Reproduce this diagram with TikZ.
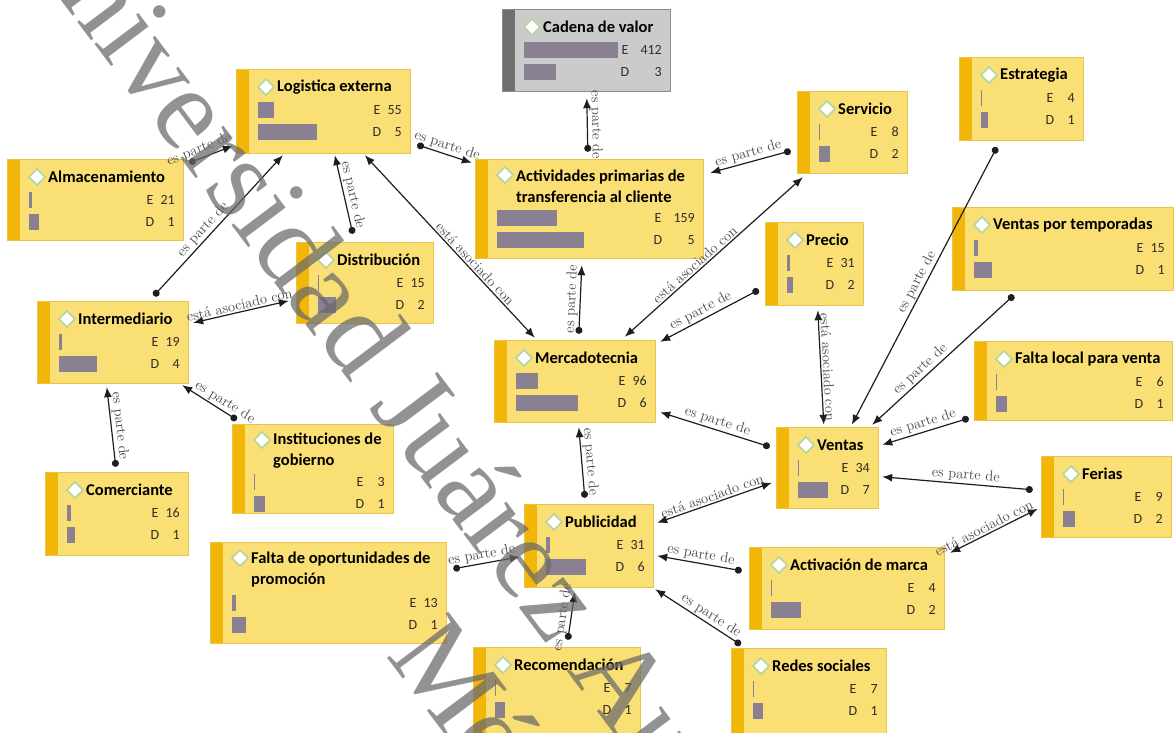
\documentclass[tikz,border=0pt]{standalone}
\usepackage{fontspec}
\newfontfamily\boxfont{Carlito}
\newfontfamily\wmfont{Liberation Serif}
\usetikzlibrary{arrows.meta}

\definecolor{fillY}{RGB}{249,223,116}
\definecolor{edgeY}{RGB}{234,196,74}
\definecolor{stripY}{RGB}{242,182,8}
\definecolor{fillG}{RGB}{203,203,203}
\definecolor{edgeG}{RGB}{140,140,140}
\definecolor{stripG}{RGB}{112,112,112}
\definecolor{barcol}{RGB}{137,129,146}
\definecolor{iconedge}{RGB}{180,212,160}
\definecolor{ink}{RGB}{30,30,30}
\definecolor{lbl}{RGB}{72,72,72}
\definecolor{valtext}{RGB}{50,45,40}
\definecolor{wmgrey}{RGB}{105,105,105}

\begin{document}
\begin{tikzpicture}[x=1pt,y=-1pt,
  boxY/.style={rectangle, fill=fillY, inner sep=0pt, draw=none},
  boxG/.style={rectangle, fill=fillG, inner sep=0pt, draw=none},
  frameY/.style={draw=edgeY, line width=0.8pt},
  frameG/.style={draw=edgeG, line width=0.8pt},
  icon/.style={draw=iconedge, fill=white, line width=1.6pt, line join=miter},
  title/.style={anchor=west, align=left, inner sep=0pt, text=black,
    font=\boxfont\bfseries\fontsize{16.5}{21}\selectfont},
  val/.style={inner sep=0pt, text=valtext, font=\boxfont\fontsize{14}{14}\selectfont},
  conn/.style={draw=ink, line width=1.2pt},
  partof/.style={conn, {Circle[length=7pt]}-{Latex[length=10pt,width=8pt]}},
  assoc/.style={conn, {Latex[length=10pt,width=8pt]}-{Latex[length=10pt,width=8pt]}},
  lab/.style={sloped, above=1pt, inner sep=0.5pt, text=lbl,
    font=\fontsize{14.5}{15}\selectfont},
  wm/.style={anchor=base, rotate=-53, inner sep=0pt, text=wmgrey, text opacity=0.72,
    font=\wmfont\fontsize{117}{117}\selectfont}]

\useasboundingbox (0,0) rectangle (1174,732);
\fill[white] (0,0) rectangle (1174,732);

% code boxes: name / left / top / right / bottom / title / title y / icon y / E row y /
%             E bar / D bar / E value / D value / colour kind
\foreach \nm/\xa/\ya/\xb/\yb/\ttl/\ty/\iy/\er/\eb/\db/\ev/\dv/\k in {
  cad/503/10/670/91/{Cadena de valor}/17/17/40/94/32/412/3/G,
  log/237/70/410/153/{Logistica externa}/17/17/40/16/59/55/5/Y,
  alm/8/160/183/240/{Almacenamiento}/17/17/40/3/10/21/1/Y,
  act/476/160/703/258/{Actividades primarias de\\transferencia al cliente}/26/15/58/60/87/159/5/Y,
  ser/798/92/907/173/{Servicio}/17/17/40/1/11/8/2/Y,
  est/960/58/1083/140/{Estrategia}/17/17/40/1/7/4/1/Y,
  dis/297/243/433/323/{Distribución}/17/17/40/1/18/15/2/Y,
  pre/766/223/863/305/{Precio}/17/17/40/3/6/31/2/Y,
  vpt/953/208/1173/290/{Ventas por temporadas}/17/17/40/4/18/15/1/Y,
  int/38/302/188/383/{Intermediario}/17/17/40/3/38/19/4/Y,
  mer/495/341/655/422/{Mercadotecnia}/17/17/40/22/62/96/6/Y,
  fal/975/342/1172/420/{Falta local para venta}/17/17/40/1/11/6/1/Y,
  ins/233/425/393/513/{Instituciones de\\gobierno}/26/15/57/1/11/3/1/Y,
  ven/777/428/878/508/{Ventas}/17/17/40/1/30/34/7/Y,
  fer/1042/457/1171/537/{Ferias}/17/17/40/1/12/9/2/Y,
  com/46/473/188/555/{Comerciante}/17/17/40/4/8/16/1/Y,
  pub/525/505/653/587/{Publicidad}/17/17/40/4/40/31/6/Y,
  fop/211/543/446/643/{Falta de oportunidades de\\promoción}/26/15/60/4/14/13/1/Y,
  amr/750/548/944/629/{Activación de marca}/17/17/40/1/30/4/2/Y,
  rec/474/648/640/735/{Recomendación}/17/17/40/1/10/7/1/Y,
  red/732/649/886/735/{Redes sociales}/17/17/40/1/10/7/1/Y}{
  \node[box\k, minimum width={\xb-\xa}, minimum height={\yb-\ya}]
    (\nm) at ({(\xa+\xb)/2},{(\ya+\yb)/2}) {};
  \fill[strip\k] (\xa,\ya) rectangle (\xa+12,\yb);
  \draw[frame\k] (\nm.north west) rectangle (\nm.south east);
  \draw[icon] (\xa+21,\ya+\iy) -- (\xa+29,\ya+\iy-8) -- (\xa+37,\ya+\iy)
    -- (\xa+29,\ya+\iy+8) -- cycle;
  \node[title] (\nm-t) at (\xa+40,\ya+\ty) {\ttl};
  \fill[barcol] (\xa+21,\ya+\er-8) rectangle (\xa+21+\eb,\ya+\er+8);
  \fill[barcol] (\xa+21,\ya+\er+14) rectangle (\xa+21+\db,\ya+\er+30);
  \pgfmathsetmacro\lx{\ev>99 ? \xb-45 : \xb-33}
  \node[val] (\nm-e) at (\lx,\ya+\er) {E};
  \node[val, anchor=east] (\nm-ev) at (\xb-8,\ya+\er) {\ev};
  \node[val] (\nm-d) at (\lx,\ya+\er+22) {D};
  \node[val, anchor=east] (\nm-dv) at (\xb-8,\ya+\er+22) {\dv};
}

% links around the logistics group
\draw[partof] ([shift={(6,3)}]alm.north east)
  -- node[lab,pos=0.3]{es parte de} ([shift={(-4,76)}]log.north west);
\draw[partof] ([shift={(116,-6)}]int.north west)
  -- node[lab,pos=0.43]{es parte de} ([shift={(46,2)}]log.south west);
\draw[partof] ([shift={(56,-9)}]dis.north west)
  -- node[lab,pos=0.47]{es parte de} ([shift={(98,2)}]log.south west);
\draw[partof] ([shift={(7,75)}]log.north east)
  -- node[lab,pos=0.5]{es parte de} ([shift={(-4,3)}]act.north west);
\draw[assoc] ([shift={(128,2)}]log.south west)
  -- node[lab,pos=0.62]{está asociado con} ([shift={(40,-3)}]mer.north west);
\draw[assoc] ([shift={(5,21)}]int.north east)
  -- node[lab,pos=0.5]{está asociado con} ([shift={(-8,58)}]dis.north west);
\draw[partof] ([shift={(70,-6)}]com.north west)
  -- node[lab,pos=0.5]{es parte de} ([shift={(69,4)}]int.south west);
\draw[partof] ([shift={(4,-5)}]ins.north west)
  -- node[lab,pos=0.3]{es parte de} ([shift={(-6,2)}]int.south east);

% links around the primary activities
\draw[partof] ([shift={(112,-8)}]act.north west)
  -- node[lab,pos=0.5]{es parte de} ([shift={(84,7)}]cad.south west);
\draw[partof] ([shift={(-7,59)}]ser.north west)
  -- node[lab,pos=0.5]{es parte de} ([shift={(7,13)}]act.north east);
\draw[assoc] ([shift={(130,-4)}]mer.north west)
  -- node[lab,pos=0.42]{está asociado con} ([shift={(5,4)}]ser.south west);
\draw[partof] ([shift={(84,-7)}]mer.north west)
  -- node[lab,pos=0.5]{es parte de} ([shift={(106,7)}]act.south west);
\draw[partof] ([shift={(-7,67)}]pre.north west)
  -- node[lab,pos=0.55]{es parte de} ([shift={(5,1)}]mer.north east);

% links around sales
\draw[partof] ([shift={(-7,19)}]ven.north west)
  -- node[lab,pos=0.5]{es parte de} ([shift={(5,-10)}]mer.south east);
\draw[assoc] ([shift={(52,5)}]pre.south west)
  -- node[lab,pos=0.5]{está asociado con} ([shift={(47,-3)}]ven.north west);
\draw[partof] ([shift={(37,7)}]est.south west)
  -- node[lab,pos=0.5]{es parte de} ([shift={(75,-3)}]ven.north west);
\draw[partof] ([shift={(61,5)}]vpt.south west)
  -- node[lab,pos=0.62]{es parte de} ([shift={(-6,-3)}]ven.north east);
\draw[partof] ([shift={(-6,-2)}]fal.south west)
  -- node[lab,pos=0.5]{es parte de} ([shift={(4,17)}]ven.north east);
\draw[partof] ([shift={(-9,33)}]fer.north west)
  -- node[lab,pos=0.45]{es parte de} ([shift={(4,49)}]ven.north east);
\draw[assoc] ([shift={(4,18)}]pub.north east)
  -- node[lab,pos=0.5]{está asociado con} ([shift={(-5,55)}]ven.north west);
\draw[assoc] ([shift={(6,5)}]amr.north east)
  -- node[lab,pos=0.42]{está asociado con} ([shift={(-4,52)}]fer.north west);

% links around advertising
\draw[partof] ([shift={(60,-7)}]pub.north west)
  -- node[lab,pos=0.5]{es parte de} ([shift={(84,5)}]mer.south west);
\draw[partof] ([shift={(-8,23)}]amr.north west)
  -- node[lab,pos=0.5]{es parte de} ([shift={(4,51)}]pub.north east);
\draw[partof] ([shift={(9,-4)}]red.north west)
  -- node[lab,pos=0.4]{es parte de} ([shift={(2,2)}]pub.south east);
\draw[partof] ([shift={(94,-8)}]rec.north west)
  -- node[lab,pos=0.45]{es parte de} ([shift={(50,5)}]pub.south west);
\draw[partof] ([shift={(7,26)}]fop.north east)
  -- node[lab,pos=0.45]{es parte de} ([shift={(-5,52)}]pub.north west);

% institutional watermark
\node[wm] (wm1) at (601,716) {Universidad Juárez Autónoma de Tabasco};
\node[wm] (wm2) at (493,798) {México};
\end{tikzpicture}
\end{document}
